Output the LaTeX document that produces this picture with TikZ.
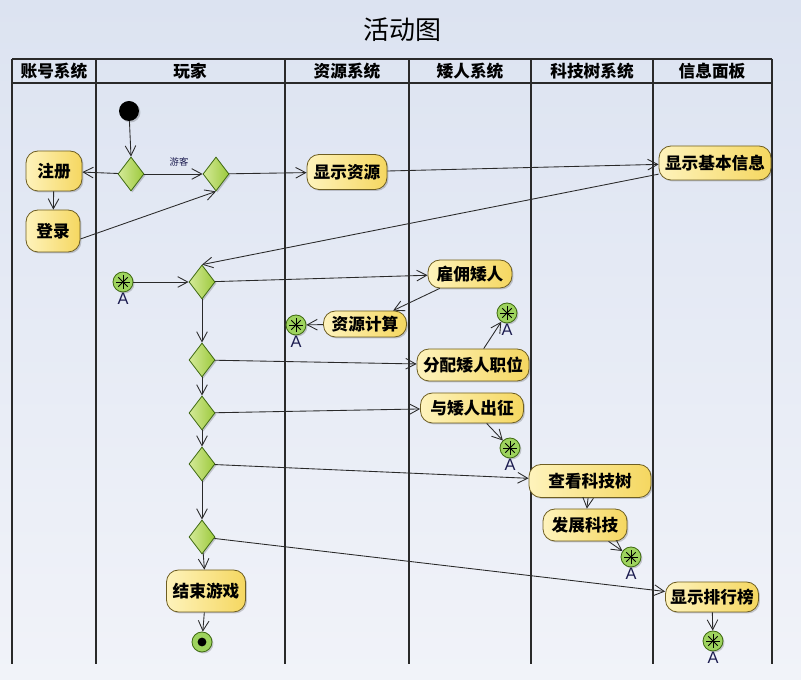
\documentclass[tikz,border=0pt]{standalone}
\usepackage{fontspec}
\setmainfont{Liberation Sans}
\newfontfamily\cjk{Noto Sans CJK SC}
\usetikzlibrary{arrows.meta,shapes.geometric,shadows}
\definecolor{bgT}{HTML}{DCE3F1}
\definecolor{bgB}{HTML}{F1F3F9}
\definecolor{boxL}{HTML}{FEF3BC}
\definecolor{boxR}{HTML}{F5D760}
\definecolor{boxD}{HTML}{6E5E22}
\definecolor{decL}{HTML}{D4EA98}
\definecolor{decR}{HTML}{9CC93C}
\definecolor{decD}{HTML}{3F6A12}
\definecolor{connF}{HTML}{9ED35E}
\definecolor{lineC}{HTML}{2A2A2A}
\definecolor{labC}{HTML}{1C1C50}
\begin{document}
\begin{tikzpicture}[x=0.75pt,y=-0.75pt,
  shad/.style={drop shadow={shadow xshift=1.1pt,shadow yshift=-1.1pt,fill=black,opacity=0.18}},
  act/.style={rounded corners=9pt,draw=boxD,line width=0.6pt,left color=boxL,right color=boxR,
    font=\cjk\bfseries\fontsize{12.5}{14}\selectfont,inner sep=0pt,shad},
  sz/.style 2 args={minimum width=#1*0.75pt,minimum height=#2*0.75pt},
  dec/.style={diamond,draw=decD,line width=0.6pt,left color=decL,right color=decR,
    minimum width=26*0.75pt,minimum height=34*0.75pt,inner sep=0pt,shad},
  conn/.style={circle,draw=decD,line width=0.6pt,fill=connF,minimum size=20*0.75pt,inner sep=0pt,shad,
    path picture={\foreach \a in {0,45,90,135}{\draw[black,line width=0.65pt] (path picture bounding box.center) ++(\a:5pt) -- ++(\a+180:10pt);}},
    label={[label distance=0.6pt,inner sep=0pt,text=labC,font=\fontsize{12.3}{12.3}\selectfont]below:A}},
  startst/.style={circle,fill=black,minimum size=20*0.75pt,inner sep=0pt,shad},
  endst/.style={circle,draw=decD,line width=0.6pt,fill=connF,minimum size=20*0.75pt,inner sep=0pt,shad,
    path picture={\fill[black] (path picture bounding box.center) circle (3.3pt);}},
  hdr/.style={font=\cjk\bfseries\fontsize{12.5}{14}\selectfont,inner sep=0pt},
  lane/.style={draw=lineC,line width=0.8pt},
  arr/.style={draw=lineC,line width=0.65pt,-{Straight Barb[length=7.5pt,width=8pt]}},
  lbl/.style={font=\cjk\fontsize{7}{7}\selectfont,text=labC,inner sep=0pt}
]
\shade[top color=bgT,bottom color=bgB] (0,0) rectangle (801,680);
\useasboundingbox (0,0) rectangle (801,680);
\node[font=\cjk\fontsize{19.5}{22}\selectfont,inner sep=0pt] (title) at (402,30) {活动图};
% swimlanes
\draw[lane] (12,59) -- (772,59);
\draw[lane] (12,83) -- (772,83);
\foreach \x in {12,96,285,409,531,653,772} \draw[lane] (\x,59) -- (\x,664);
\node[hdr] (h1) at (54,71) {账号系统};
\node[hdr] (h2) at (190,71) {玩家};
\node[hdr] (h3) at (347,71) {资源系统};
\node[hdr] (h4) at (470,71) {矮人系统};
\node[hdr] (h5) at (592,71) {科技树系统};
\node[hdr] (h6) at (712,71) {信息面板};
% nodes
\node[startst] (s) at (129,111) {};
\node[dec] (d1) at (131,174) {};
\node[dec] (d2) at (216,174) {};
\node[lbl] (guest) at (179,162) {游客};
\node[act,sz={56}{40}] (reg) at (54,171) {注册};
\node[act,sz={54}{42}] (login) at (53,231) {登录};
\node[act,sz={80}{35}] (res) at (347,172) {显示资源};
\node[act,sz={112}{34}] (info) at (715,163) {显示基本信息};
\node[conn] (A1) at (123,282) {};
\node[dec] (d3) at (202,282) {};
\node[act,sz={84}{28}] (hire) at (470,274) {雇佣矮人};
\node[act,sz={83}{26}] (calc) at (365,324) {资源计算};
\node[conn] (A2) at (296,325) {};
\node[dec] (d4) at (202,360) {};
\node[act,sz={112}{32}] (assign) at (473,365) {分配矮人职位};
\node[conn] (A3) at (507,313) {};
\node[dec] (d5) at (202,413) {};
\node[act,sz={103}{30}] (march) at (472,408) {与矮人出征};
\node[conn] (A4) at (510,448) {};
\node[dec] (d6) at (202,464) {};
\node[act,sz={122}{33}] (tech) at (590,481) {查看科技树};
\node[act,sz={84}{32}] (dev) at (585,525) {发展科技};
\node[conn] (A5) at (631,557) {};
\node[dec] (d7) at (202,537) {};
\node[act,sz={79}{42}] (quit) at (206,591) {结束游戏};
\node[endst] (e) at (202,642) {};
\node[act,sz={93}{30}] (rank) at (712,597) {显示排行榜};
\node[conn] (A6) at (713,641) {};
% connectors
\draw[arr] (s) -- (d1.north);
\draw[arr] (d1) -- (reg);
\draw[arr] (reg) -- (login);
\draw[arr] (d1) -- (d2);
\draw[arr] ([yshift=-6pt]login.east) -- (d2.south);
\draw[arr] (d2) -- (res);
\draw[arr] (res) -- (info);
\draw[arr] (info) -- (d3.north);
\draw[arr] (A1) -- (d3);
\draw[arr] (d3) -- (hire);
\draw[arr] (hire) -- (calc);
\draw[arr] (calc) -- (A2);
\draw[arr] (d3) -- (d4);
\draw[arr] (d4) -- (assign);
\draw[arr] (assign) -- (A3);
\draw[arr] (d4) -- (d5);
\draw[arr] (d5) -- (march);
\draw[arr] (march) -- (A4);
\draw[arr] (d5) -- (d6);
\draw[arr] (d6) -- (tech);
\draw[arr] (tech) -- (dev);
\draw[arr] (dev) -- (A5);
\draw[arr] (d6) -- (d7);
\draw[arr] (d7) -- (rank);
\draw[arr] (d7) -- (quit);
\draw[arr] (quit) -- (e);
\draw[arr] (rank) -- (A6);
\end{tikzpicture}
\end{document}
